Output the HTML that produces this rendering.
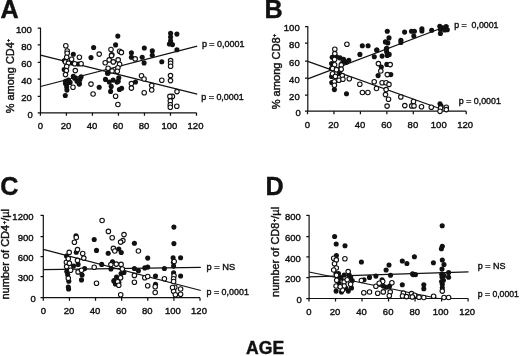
<!DOCTYPE html><html><head><meta charset="utf-8"><style>html,body{margin:0;padding:0;background:#fff;}svg{display:block;}text{font-family:"Liberation Sans",sans-serif;fill:#111;stroke:#111;stroke-width:0.4px;}svg{filter:grayscale(1) blur(0.3px);}</style></head><body>
<svg width="520" height="356" viewBox="0 0 520 356">
<rect width="520" height="356" fill="#fff"/>
<path d="M40.5 27.7V112.8H196.5" fill="none" stroke="#111" stroke-width="1.2"/>
<path d="M37.7 28.2H40.5M37.7 44.9H40.5M37.7 62.4H40.5M37.7 79.2H40.5M37.7 96.3H40.5M37.7 112.8H40.5M40.40 112.8V115.8M66.42 112.8V115.8M92.43 112.8V115.8M118.45 112.8V115.8M144.47 112.8V115.8M170.48 112.8V115.8M196.50 112.8V115.8" fill="none" stroke="#111" stroke-width="1.25"/>
<text x="31.90" y="32.90" font-size="9.5" text-anchor="end" font-weight="normal" >100</text>
<text x="31.90" y="49.60" font-size="9.5" text-anchor="end" font-weight="normal" >80</text>
<text x="31.90" y="67.10" font-size="9.5" text-anchor="end" font-weight="normal" >60</text>
<text x="31.90" y="83.90" font-size="9.5" text-anchor="end" font-weight="normal" >40</text>
<text x="31.90" y="101.00" font-size="9.5" text-anchor="end" font-weight="normal" >20</text>
<text x="32.90" y="117.50" font-size="9.5" text-anchor="end" font-weight="normal" >0</text>
<text x="40.40" y="129.0" font-size="9.5" text-anchor="middle" font-weight="normal" >0</text>
<text x="66.02" y="129.0" font-size="9.5" text-anchor="middle" font-weight="normal" >20</text>
<text x="92.03" y="129.0" font-size="9.5" text-anchor="middle" font-weight="normal" >40</text>
<text x="118.05" y="129.0" font-size="9.5" text-anchor="middle" font-weight="normal" >60</text>
<text x="144.07" y="129.0" font-size="9.5" text-anchor="middle" font-weight="normal" >80</text>
<text x="169.48" y="129.0" font-size="9.5" text-anchor="middle" font-weight="normal" >100</text>
<text x="195.50" y="129.0" font-size="9.5" text-anchor="middle" font-weight="normal" >120</text>
<line x1="40.5" y1="86.5" x2="197.2" y2="46.2" stroke="#111" stroke-width="1.25"/>
<line x1="40.5" y1="55.1" x2="197.2" y2="94.2" stroke="#111" stroke-width="1.25"/>
<circle cx="71.9" cy="62.9" r="2.55" fill="#111"/>
<circle cx="78.1" cy="64.0" r="2.55" fill="#111"/>
<circle cx="64.4" cy="60.6" r="2.55" fill="#111"/>
<circle cx="64.2" cy="69.5" r="2.55" fill="#111"/>
<circle cx="73.3" cy="54.3" r="2.55" fill="#111"/>
<circle cx="65.3" cy="95.5" r="2.55" fill="#111"/>
<circle cx="66.9" cy="90.1" r="2.55" fill="#111"/>
<circle cx="66.7" cy="86.9" r="2.55" fill="#111"/>
<circle cx="65.5" cy="83.5" r="2.55" fill="#111"/>
<circle cx="65.5" cy="81.3" r="2.55" fill="#111"/>
<circle cx="68.4" cy="80.1" r="2.55" fill="#111"/>
<circle cx="66.7" cy="83.6" r="2.55" fill="#111"/>
<circle cx="70.1" cy="82.4" r="2.55" fill="#111"/>
<circle cx="73.3" cy="76.4" r="2.55" fill="#111"/>
<circle cx="75.3" cy="77.8" r="2.55" fill="#111"/>
<circle cx="81.1" cy="76.7" r="2.55" fill="#111"/>
<circle cx="79.9" cy="79.5" r="2.55" fill="#111"/>
<circle cx="79.4" cy="83.6" r="2.55" fill="#111"/>
<circle cx="77" cy="81.3" r="2.55" fill="#111"/>
<circle cx="74.6" cy="78.3" r="2.55" fill="#111"/>
<circle cx="79.2" cy="84.1" r="2.55" fill="#111"/>
<circle cx="93.6" cy="47.5" r="2.55" fill="#111"/>
<circle cx="91.0" cy="57.6" r="2.55" fill="#111"/>
<circle cx="99.2" cy="87.3" r="2.55" fill="#111"/>
<circle cx="115.6" cy="44.9" r="2.55" fill="#111"/>
<circle cx="117.8" cy="36.1" r="2.55" fill="#111"/>
<circle cx="108.1" cy="72.9" r="2.55" fill="#111"/>
<circle cx="105.5" cy="79.4" r="2.55" fill="#111"/>
<circle cx="109.3" cy="82" r="2.55" fill="#111"/>
<circle cx="111.2" cy="86.4" r="2.55" fill="#111"/>
<circle cx="110.6" cy="91.4" r="2.55" fill="#111"/>
<circle cx="113.1" cy="80.1" r="2.55" fill="#111"/>
<circle cx="118.2" cy="81.3" r="2.55" fill="#111"/>
<circle cx="119.4" cy="89.5" r="2.55" fill="#111"/>
<circle cx="121.6" cy="88.3" r="2.55" fill="#111"/>
<circle cx="118.8" cy="77.7" r="2.55" fill="#111"/>
<circle cx="117" cy="82.1" r="2.55" fill="#111"/>
<circle cx="107.5" cy="73.3" r="2.55" fill="#111"/>
<circle cx="131.4" cy="52.8" r="2.55" fill="#111"/>
<circle cx="131.4" cy="57.2" r="2.55" fill="#111"/>
<circle cx="144.3" cy="48" r="2.55" fill="#111"/>
<circle cx="142.2" cy="57.2" r="2.55" fill="#111"/>
<circle cx="144.1" cy="62.9" r="2.55" fill="#111"/>
<circle cx="152.3" cy="50.9" r="2.55" fill="#111"/>
<circle cx="152.3" cy="55.3" r="2.55" fill="#111"/>
<circle cx="161.8" cy="61.7" r="2.55" fill="#111"/>
<circle cx="170.6" cy="33.2" r="2.55" fill="#111"/>
<circle cx="170.6" cy="37" r="2.55" fill="#111"/>
<circle cx="170.6" cy="40.8" r="2.55" fill="#111"/>
<circle cx="169.4" cy="44" r="2.55" fill="#111"/>
<circle cx="172.5" cy="44.6" r="2.55" fill="#111"/>
<circle cx="176.9" cy="34.1" r="2.55" fill="#111"/>
<circle cx="176.9" cy="49.7" r="2.55" fill="#111"/>
<circle cx="135.5" cy="82" r="2.55" fill="#111"/>
<circle cx="65.8" cy="45.8" r="2.25" fill="#fff" stroke="#111" stroke-width="1.1"/>
<circle cx="67.2" cy="51" r="2.25" fill="#fff" stroke="#111" stroke-width="1.1"/>
<circle cx="67.2" cy="53.3" r="2.25" fill="#fff" stroke="#111" stroke-width="1.1"/>
<circle cx="66.7" cy="57.3" r="2.25" fill="#fff" stroke="#111" stroke-width="1.1"/>
<circle cx="71.6" cy="59.3" r="2.25" fill="#fff" stroke="#111" stroke-width="1.1"/>
<circle cx="79.4" cy="57.3" r="2.25" fill="#fff" stroke="#111" stroke-width="1.1"/>
<circle cx="81.1" cy="63.7" r="2.25" fill="#fff" stroke="#111" stroke-width="1.1"/>
<circle cx="65.5" cy="61.9" r="2.25" fill="#fff" stroke="#111" stroke-width="1.1"/>
<circle cx="68.4" cy="63.1" r="2.25" fill="#fff" stroke="#111" stroke-width="1.1"/>
<circle cx="74.7" cy="63.7" r="2.25" fill="#fff" stroke="#111" stroke-width="1.1"/>
<circle cx="66.7" cy="66.5" r="2.25" fill="#fff" stroke="#111" stroke-width="1.1"/>
<circle cx="66.4" cy="70.6" r="2.25" fill="#fff" stroke="#111" stroke-width="1.1"/>
<circle cx="75.3" cy="70.6" r="2.25" fill="#fff" stroke="#111" stroke-width="1.1"/>
<circle cx="65.5" cy="74.6" r="2.25" fill="#fff" stroke="#111" stroke-width="1.1"/>
<circle cx="73" cy="87.2" r="2.25" fill="#fff" stroke="#111" stroke-width="1.1"/>
<circle cx="99.2" cy="54.1" r="2.25" fill="#fff" stroke="#111" stroke-width="1.1"/>
<circle cx="91" cy="84.1" r="2.25" fill="#fff" stroke="#111" stroke-width="1.1"/>
<circle cx="93.1" cy="94" r="2.25" fill="#fff" stroke="#111" stroke-width="1.1"/>
<circle cx="111" cy="49.5" r="2.25" fill="#fff" stroke="#111" stroke-width="1.1"/>
<circle cx="111.8" cy="54.7" r="2.25" fill="#fff" stroke="#111" stroke-width="1.1"/>
<circle cx="119.6" cy="51.3" r="2.25" fill="#fff" stroke="#111" stroke-width="1.1"/>
<circle cx="121.4" cy="52.4" r="2.25" fill="#fff" stroke="#111" stroke-width="1.1"/>
<circle cx="111.5" cy="55.6" r="2.25" fill="#fff" stroke="#111" stroke-width="1.1"/>
<circle cx="109.2" cy="59.9" r="2.25" fill="#fff" stroke="#111" stroke-width="1.1"/>
<circle cx="105.2" cy="62.8" r="2.25" fill="#fff" stroke="#111" stroke-width="1.1"/>
<circle cx="113.3" cy="61.9" r="2.25" fill="#fff" stroke="#111" stroke-width="1.1"/>
<circle cx="118.2" cy="59.9" r="2.25" fill="#fff" stroke="#111" stroke-width="1.1"/>
<circle cx="119.6" cy="64.2" r="2.25" fill="#fff" stroke="#111" stroke-width="1.1"/>
<circle cx="117.9" cy="67.7" r="2.25" fill="#fff" stroke="#111" stroke-width="1.1"/>
<circle cx="108.1" cy="68.3" r="2.25" fill="#fff" stroke="#111" stroke-width="1.1"/>
<circle cx="112.1" cy="70.9" r="2.25" fill="#fff" stroke="#111" stroke-width="1.1"/>
<circle cx="117.3" cy="71.2" r="2.25" fill="#fff" stroke="#111" stroke-width="1.1"/>
<circle cx="115.6" cy="96.2" r="2.25" fill="#fff" stroke="#111" stroke-width="1.1"/>
<circle cx="117.9" cy="104.5" r="2.25" fill="#fff" stroke="#111" stroke-width="1.1"/>
<circle cx="135.2" cy="58.9" r="2.25" fill="#fff" stroke="#111" stroke-width="1.1"/>
<circle cx="141.5" cy="75.8" r="2.25" fill="#fff" stroke="#111" stroke-width="1.1"/>
<circle cx="144.1" cy="79" r="2.25" fill="#fff" stroke="#111" stroke-width="1.1"/>
<circle cx="131.4" cy="83.6" r="2.25" fill="#fff" stroke="#111" stroke-width="1.1"/>
<circle cx="131.4" cy="88.1" r="2.25" fill="#fff" stroke="#111" stroke-width="1.1"/>
<circle cx="144.2" cy="92.8" r="2.25" fill="#fff" stroke="#111" stroke-width="1.1"/>
<circle cx="151.7" cy="85.5" r="2.25" fill="#fff" stroke="#111" stroke-width="1.1"/>
<circle cx="151.7" cy="90" r="2.25" fill="#fff" stroke="#111" stroke-width="1.1"/>
<circle cx="161.8" cy="80.2" r="2.25" fill="#fff" stroke="#111" stroke-width="1.1"/>
<circle cx="170.6" cy="60.6" r="2.25" fill="#fff" stroke="#111" stroke-width="1.1"/>
<circle cx="170.6" cy="63.2" r="2.25" fill="#fff" stroke="#111" stroke-width="1.1"/>
<circle cx="170.6" cy="66.2" r="2.25" fill="#fff" stroke="#111" stroke-width="1.1"/>
<circle cx="170.5" cy="75.6" r="2.25" fill="#fff" stroke="#111" stroke-width="1.1"/>
<circle cx="170.5" cy="80.6" r="2.25" fill="#fff" stroke="#111" stroke-width="1.1"/>
<circle cx="177" cy="91.6" r="2.25" fill="#fff" stroke="#111" stroke-width="1.1"/>
<circle cx="172.4" cy="96.4" r="2.25" fill="#fff" stroke="#111" stroke-width="1.1"/>
<circle cx="169.9" cy="96.4" r="2.25" fill="#fff" stroke="#111" stroke-width="1.1"/>
<circle cx="170.3" cy="100.9" r="2.25" fill="#fff" stroke="#111" stroke-width="1.1"/>
<circle cx="170.3" cy="104.7" r="2.25" fill="#fff" stroke="#111" stroke-width="1.1"/>
<circle cx="170.3" cy="107.2" r="2.25" fill="#fff" stroke="#111" stroke-width="1.1"/>
<circle cx="176.8" cy="106.2" r="2.25" fill="#fff" stroke="#111" stroke-width="1.1"/>
<path d="M307.8 26.1V111.2H466.2" fill="none" stroke="#111" stroke-width="1.2"/>
<path d="M305.0 26.6H307.8M305.0 43.0H307.8M305.0 61.2H307.8M305.0 78.0H307.8M305.0 95.1H307.8M305.0 111.2H307.8M307.50 111.2V114.2M333.95 111.2V114.2M360.40 111.2V114.2M386.85 111.2V114.2M413.30 111.2V114.2M439.75 111.2V114.2M466.20 111.2V114.2" fill="none" stroke="#111" stroke-width="1.25"/>
<text x="299.70" y="31.30" font-size="9.5" text-anchor="end" font-weight="normal" >100</text>
<text x="299.70" y="47.70" font-size="9.5" text-anchor="end" font-weight="normal" >80</text>
<text x="299.70" y="65.90" font-size="9.5" text-anchor="end" font-weight="normal" >60</text>
<text x="299.70" y="82.70" font-size="9.5" text-anchor="end" font-weight="normal" >40</text>
<text x="299.70" y="99.80" font-size="9.5" text-anchor="end" font-weight="normal" >20</text>
<text x="300.70" y="115.90" font-size="9.5" text-anchor="end" font-weight="normal" >0</text>
<text x="307.50" y="128.2" font-size="9.5" text-anchor="middle" font-weight="normal" >0</text>
<text x="333.55" y="128.2" font-size="9.5" text-anchor="middle" font-weight="normal" >20</text>
<text x="360.00" y="128.2" font-size="9.5" text-anchor="middle" font-weight="normal" >40</text>
<text x="386.45" y="128.2" font-size="9.5" text-anchor="middle" font-weight="normal" >60</text>
<text x="412.90" y="128.2" font-size="9.5" text-anchor="middle" font-weight="normal" >80</text>
<text x="438.75" y="128.2" font-size="9.5" text-anchor="middle" font-weight="normal" >100</text>
<text x="465.20" y="128.2" font-size="9.5" text-anchor="middle" font-weight="normal" >120</text>
<line x1="307.8" y1="78.9" x2="448.4" y2="25.5" stroke="#111" stroke-width="1.25"/>
<line x1="307.8" y1="61.4" x2="441" y2="109.0" stroke="#111" stroke-width="1.25"/>
<circle cx="331.6" cy="63.5" r="2.55" fill="#111"/>
<circle cx="331.4" cy="68.5" r="2.55" fill="#111"/>
<circle cx="331.6" cy="76.5" r="2.55" fill="#111"/>
<circle cx="331.8" cy="82.5" r="2.55" fill="#111"/>
<circle cx="332.2" cy="57.3" r="2.55" fill="#111"/>
<circle cx="336.5" cy="56.8" r="2.55" fill="#111"/>
<circle cx="340" cy="57.9" r="2.55" fill="#111"/>
<circle cx="343.5" cy="59.4" r="2.55" fill="#111"/>
<circle cx="348.8" cy="60.2" r="2.55" fill="#111"/>
<circle cx="346.2" cy="62.3" r="2.55" fill="#111"/>
<circle cx="342.3" cy="63.1" r="2.55" fill="#111"/>
<circle cx="339.6" cy="73.5" r="2.55" fill="#111"/>
<circle cx="334.4" cy="89.6" r="2.55" fill="#111"/>
<circle cx="346.5" cy="93.8" r="2.55" fill="#111"/>
<circle cx="359.9" cy="54.4" r="2.55" fill="#111"/>
<circle cx="362.3" cy="45.8" r="2.55" fill="#111"/>
<circle cx="368.1" cy="45.8" r="2.55" fill="#111"/>
<circle cx="376.7" cy="50.1" r="2.55" fill="#111"/>
<circle cx="374.3" cy="56.8" r="2.55" fill="#111"/>
<circle cx="382.1" cy="56.1" r="2.55" fill="#111"/>
<circle cx="387.3" cy="55.4" r="2.55" fill="#111"/>
<circle cx="389.2" cy="54.4" r="2.55" fill="#111"/>
<circle cx="386.3" cy="49.1" r="2.55" fill="#111"/>
<circle cx="385.4" cy="41.9" r="2.55" fill="#111"/>
<circle cx="387.8" cy="42.9" r="2.55" fill="#111"/>
<circle cx="387.3" cy="31.2" r="2.55" fill="#111"/>
<circle cx="389" cy="37.9" r="2.55" fill="#111"/>
<circle cx="386.7" cy="48.3" r="2.55" fill="#111"/>
<circle cx="386.6" cy="51.8" r="2.55" fill="#111"/>
<circle cx="376.9" cy="50" r="2.55" fill="#111"/>
<circle cx="378.1" cy="75.6" r="2.55" fill="#111"/>
<circle cx="381.3" cy="67.0" r="2.55" fill="#111"/>
<circle cx="386.8" cy="64.4" r="2.55" fill="#111"/>
<circle cx="390.8" cy="74.6" r="2.55" fill="#111"/>
<circle cx="400.9" cy="40.2" r="2.55" fill="#111"/>
<circle cx="400.9" cy="42.5" r="2.55" fill="#111"/>
<circle cx="404.6" cy="32.1" r="2.55" fill="#111"/>
<circle cx="411.5" cy="31.2" r="2.55" fill="#111"/>
<circle cx="414.4" cy="31.2" r="2.55" fill="#111"/>
<circle cx="413.8" cy="36.1" r="2.55" fill="#111"/>
<circle cx="421.9" cy="28.7" r="2.55" fill="#111"/>
<circle cx="421.9" cy="31" r="2.55" fill="#111"/>
<circle cx="431.7" cy="30.2" r="2.55" fill="#111"/>
<circle cx="439.8" cy="26.3" r="2.55" fill="#111"/>
<circle cx="440.4" cy="29.4" r="2.55" fill="#111"/>
<circle cx="440.4" cy="33.5" r="2.55" fill="#111"/>
<circle cx="442.7" cy="27.7" r="2.55" fill="#111"/>
<circle cx="446.1" cy="26.5" r="2.55" fill="#111"/>
<circle cx="447.3" cy="29.8" r="2.55" fill="#111"/>
<circle cx="444.5" cy="30" r="2.55" fill="#111"/>
<circle cx="440" cy="103.8" r="2.55" fill="#111"/>
<circle cx="441.1" cy="106.1" r="2.55" fill="#111"/>
<circle cx="346.9" cy="44.3" r="2.25" fill="#fff" stroke="#111" stroke-width="1.1"/>
<circle cx="334.8" cy="49.2" r="2.25" fill="#fff" stroke="#111" stroke-width="1.1"/>
<circle cx="334.8" cy="53.6" r="2.25" fill="#fff" stroke="#111" stroke-width="1.1"/>
<circle cx="334.6" cy="59.5" r="2.25" fill="#fff" stroke="#111" stroke-width="1.1"/>
<circle cx="334.6" cy="64.8" r="2.25" fill="#fff" stroke="#111" stroke-width="1.1"/>
<circle cx="341.3" cy="64.9" r="2.25" fill="#fff" stroke="#111" stroke-width="1.1"/>
<circle cx="341.2" cy="69.3" r="2.25" fill="#fff" stroke="#111" stroke-width="1.1"/>
<circle cx="332.6" cy="68.5" r="2.25" fill="#fff" stroke="#111" stroke-width="1.1"/>
<circle cx="336.5" cy="69.8" r="2.25" fill="#fff" stroke="#111" stroke-width="1.1"/>
<circle cx="332.5" cy="73.8" r="2.25" fill="#fff" stroke="#111" stroke-width="1.1"/>
<circle cx="335.4" cy="76.4" r="2.25" fill="#fff" stroke="#111" stroke-width="1.1"/>
<circle cx="338.9" cy="80.2" r="2.25" fill="#fff" stroke="#111" stroke-width="1.1"/>
<circle cx="342.3" cy="75.6" r="2.25" fill="#fff" stroke="#111" stroke-width="1.1"/>
<circle cx="342.9" cy="79.2" r="2.25" fill="#fff" stroke="#111" stroke-width="1.1"/>
<circle cx="349.3" cy="78.8" r="2.25" fill="#fff" stroke="#111" stroke-width="1.1"/>
<circle cx="334.3" cy="81.7" r="2.25" fill="#fff" stroke="#111" stroke-width="1.1"/>
<circle cx="334.4" cy="85.3" r="2.25" fill="#fff" stroke="#111" stroke-width="1.1"/>
<circle cx="359.8" cy="84.3" r="2.25" fill="#fff" stroke="#111" stroke-width="1.1"/>
<circle cx="374.2" cy="81.8" r="2.25" fill="#fff" stroke="#111" stroke-width="1.1"/>
<circle cx="376.5" cy="88.5" r="2.25" fill="#fff" stroke="#111" stroke-width="1.1"/>
<circle cx="362.4" cy="92.5" r="2.25" fill="#fff" stroke="#111" stroke-width="1.1"/>
<circle cx="367.9" cy="92.5" r="2.25" fill="#fff" stroke="#111" stroke-width="1.1"/>
<circle cx="378.4" cy="63.6" r="2.25" fill="#fff" stroke="#111" stroke-width="1.1"/>
<circle cx="380.8" cy="71.0" r="2.25" fill="#fff" stroke="#111" stroke-width="1.1"/>
<circle cx="390.2" cy="64.6" r="2.25" fill="#fff" stroke="#111" stroke-width="1.1"/>
<circle cx="387.3" cy="74.6" r="2.25" fill="#fff" stroke="#111" stroke-width="1.1"/>
<circle cx="382.1" cy="82.7" r="2.25" fill="#fff" stroke="#111" stroke-width="1.1"/>
<circle cx="386.1" cy="82.7" r="2.25" fill="#fff" stroke="#111" stroke-width="1.1"/>
<circle cx="389" cy="84.4" r="2.25" fill="#fff" stroke="#111" stroke-width="1.1"/>
<circle cx="386.1" cy="89.6" r="2.25" fill="#fff" stroke="#111" stroke-width="1.1"/>
<circle cx="385.5" cy="94.6" r="2.25" fill="#fff" stroke="#111" stroke-width="1.1"/>
<circle cx="388.5" cy="99.3" r="2.25" fill="#fff" stroke="#111" stroke-width="1.1"/>
<circle cx="387.1" cy="106.1" r="2.25" fill="#fff" stroke="#111" stroke-width="1.1"/>
<circle cx="400.8" cy="96.9" r="2.25" fill="#fff" stroke="#111" stroke-width="1.1"/>
<circle cx="404.8" cy="105.6" r="2.25" fill="#fff" stroke="#111" stroke-width="1.1"/>
<circle cx="413.5" cy="101.5" r="2.25" fill="#fff" stroke="#111" stroke-width="1.1"/>
<circle cx="411.7" cy="105.9" r="2.25" fill="#fff" stroke="#111" stroke-width="1.1"/>
<circle cx="414" cy="105.9" r="2.25" fill="#fff" stroke="#111" stroke-width="1.1"/>
<circle cx="421.5" cy="106.7" r="2.25" fill="#fff" stroke="#111" stroke-width="1.1"/>
<circle cx="431.3" cy="107.3" r="2.25" fill="#fff" stroke="#111" stroke-width="1.1"/>
<circle cx="440.6" cy="107.9" r="2.25" fill="#fff" stroke="#111" stroke-width="1.1"/>
<circle cx="446.3" cy="107.3" r="2.25" fill="#fff" stroke="#111" stroke-width="1.1"/>
<circle cx="446.3" cy="109.6" r="2.25" fill="#fff" stroke="#111" stroke-width="1.1"/>
<circle cx="440" cy="111.2" r="2.25" fill="#fff" stroke="#111" stroke-width="1.1"/>
<path d="M43.3 214.9V297.7H200.0" fill="none" stroke="#111" stroke-width="1.2"/>
<path d="M40.5 215.4H43.3M40.5 236.5H43.3M40.5 256.6H43.3M40.5 276.6H43.3M40.5 297.7H43.3M43.30 297.7V300.7M69.42 297.7V300.7M95.53 297.7V300.7M121.65 297.7V300.7M147.77 297.7V300.7M173.88 297.7V300.7M200.00 297.7V300.7" fill="none" stroke="#111" stroke-width="1.25"/>
<text x="33.50" y="220.10" font-size="9.5" text-anchor="end" font-weight="normal" >1200</text>
<text x="33.50" y="241.20" font-size="9.5" text-anchor="end" font-weight="normal" >900</text>
<text x="33.50" y="261.30" font-size="9.5" text-anchor="end" font-weight="normal" >600</text>
<text x="33.50" y="281.30" font-size="9.5" text-anchor="end" font-weight="normal" >300</text>
<text x="35.90" y="302.40" font-size="9.5" text-anchor="end" font-weight="normal" >0</text>
<text x="43.30" y="314.1" font-size="9.5" text-anchor="middle" font-weight="normal" >0</text>
<text x="69.02" y="314.1" font-size="9.5" text-anchor="middle" font-weight="normal" >20</text>
<text x="95.13" y="314.1" font-size="9.5" text-anchor="middle" font-weight="normal" >40</text>
<text x="121.25" y="314.1" font-size="9.5" text-anchor="middle" font-weight="normal" >60</text>
<text x="147.37" y="314.1" font-size="9.5" text-anchor="middle" font-weight="normal" >80</text>
<text x="172.88" y="314.1" font-size="9.5" text-anchor="middle" font-weight="normal" >100</text>
<text x="199.00" y="314.1" font-size="9.5" text-anchor="middle" font-weight="normal" >120</text>
<line x1="43.3" y1="249.4" x2="200.8" y2="290.5" stroke="#111" stroke-width="1.25"/>
<line x1="43.3" y1="269.7" x2="200.8" y2="267.3" stroke="#111" stroke-width="1.25"/>
<circle cx="76" cy="235.8" r="2.55" fill="#111"/>
<circle cx="94.2" cy="239.5" r="2.55" fill="#111"/>
<circle cx="96.5" cy="250.4" r="2.55" fill="#111"/>
<circle cx="108.2" cy="253.3" r="2.55" fill="#111"/>
<circle cx="76.3" cy="252.3" r="2.55" fill="#111"/>
<circle cx="101.7" cy="264.4" r="2.55" fill="#111"/>
<circle cx="112.5" cy="261.7" r="2.55" fill="#111"/>
<circle cx="110.9" cy="269" r="2.55" fill="#111"/>
<circle cx="73.5" cy="266.1" r="2.55" fill="#111"/>
<circle cx="78.1" cy="264.4" r="2.55" fill="#111"/>
<circle cx="67.7" cy="274.8" r="2.55" fill="#111"/>
<circle cx="68.8" cy="281.3" r="2.55" fill="#111"/>
<circle cx="68.3" cy="287.1" r="2.55" fill="#111"/>
<circle cx="68.6" cy="289.0" r="2.55" fill="#111"/>
<circle cx="82.1" cy="275" r="2.55" fill="#111"/>
<circle cx="81.5" cy="279.9" r="2.55" fill="#111"/>
<circle cx="113.8" cy="281.1" r="2.55" fill="#111"/>
<circle cx="66.8" cy="271.5" r="2.55" fill="#111"/>
<circle cx="84.6" cy="268.6" r="2.55" fill="#111"/>
<circle cx="66.5" cy="256" r="2.55" fill="#111"/>
<circle cx="134.4" cy="243.3" r="2.55" fill="#111"/>
<circle cx="118.8" cy="249" r="2.55" fill="#111"/>
<circle cx="121.3" cy="252.5" r="2.55" fill="#111"/>
<circle cx="147.7" cy="258.1" r="2.55" fill="#111"/>
<circle cx="134.4" cy="268.5" r="2.55" fill="#111"/>
<circle cx="138.4" cy="270.8" r="2.55" fill="#111"/>
<circle cx="144.8" cy="267.9" r="2.55" fill="#111"/>
<circle cx="147.7" cy="267.1" r="2.55" fill="#111"/>
<circle cx="164.4" cy="268.5" r="2.55" fill="#111"/>
<circle cx="155.5" cy="276" r="2.55" fill="#111"/>
<circle cx="121.1" cy="273.6" r="2.55" fill="#111"/>
<circle cx="124" cy="272.5" r="2.55" fill="#111"/>
<circle cx="116.5" cy="277.1" r="2.55" fill="#111"/>
<circle cx="114.2" cy="280.6" r="2.55" fill="#111"/>
<circle cx="115.4" cy="284" r="2.55" fill="#111"/>
<circle cx="118.8" cy="282.3" r="2.55" fill="#111"/>
<circle cx="155.5" cy="284.3" r="2.55" fill="#111"/>
<circle cx="173.9" cy="227.1" r="2.55" fill="#111"/>
<circle cx="173.9" cy="243.6" r="2.55" fill="#111"/>
<circle cx="173.1" cy="257.8" r="2.55" fill="#111"/>
<circle cx="180.6" cy="257.8" r="2.55" fill="#111"/>
<circle cx="173.4" cy="262.2" r="2.55" fill="#111"/>
<circle cx="173.6" cy="266.1" r="2.55" fill="#111"/>
<circle cx="180.6" cy="276" r="2.55" fill="#111"/>
<circle cx="173.6" cy="272.9" r="2.55" fill="#111"/>
<circle cx="102.1" cy="220.5" r="2.25" fill="#fff" stroke="#111" stroke-width="1.1"/>
<circle cx="108.4" cy="231.4" r="2.25" fill="#fff" stroke="#111" stroke-width="1.1"/>
<circle cx="112.2" cy="237.8" r="2.25" fill="#fff" stroke="#111" stroke-width="1.1"/>
<circle cx="76.3" cy="237.5" r="2.25" fill="#fff" stroke="#111" stroke-width="1.1"/>
<circle cx="74.4" cy="242.3" r="2.25" fill="#fff" stroke="#111" stroke-width="1.1"/>
<circle cx="77.5" cy="249.6" r="2.25" fill="#fff" stroke="#111" stroke-width="1.1"/>
<circle cx="69.2" cy="252.4" r="2.25" fill="#fff" stroke="#111" stroke-width="1.1"/>
<circle cx="82.7" cy="253.5" r="2.25" fill="#fff" stroke="#111" stroke-width="1.1"/>
<circle cx="113.4" cy="248.4" r="2.25" fill="#fff" stroke="#111" stroke-width="1.1"/>
<circle cx="114.8" cy="251" r="2.25" fill="#fff" stroke="#111" stroke-width="1.1"/>
<circle cx="66.4" cy="262.2" r="2.25" fill="#fff" stroke="#111" stroke-width="1.1"/>
<circle cx="66.6" cy="266.6" r="2.25" fill="#fff" stroke="#111" stroke-width="1.1"/>
<circle cx="68.3" cy="258.7" r="2.25" fill="#fff" stroke="#111" stroke-width="1.1"/>
<circle cx="69.4" cy="263.3" r="2.25" fill="#fff" stroke="#111" stroke-width="1.1"/>
<circle cx="77.5" cy="260.4" r="2.25" fill="#fff" stroke="#111" stroke-width="1.1"/>
<circle cx="83.8" cy="258.1" r="2.25" fill="#fff" stroke="#111" stroke-width="1.1"/>
<circle cx="70.6" cy="270.2" r="2.25" fill="#fff" stroke="#111" stroke-width="1.1"/>
<circle cx="78.1" cy="271.9" r="2.25" fill="#fff" stroke="#111" stroke-width="1.1"/>
<circle cx="81.5" cy="270.2" r="2.25" fill="#fff" stroke="#111" stroke-width="1.1"/>
<circle cx="68.3" cy="278.2" r="2.25" fill="#fff" stroke="#111" stroke-width="1.1"/>
<circle cx="94.2" cy="267.3" r="2.25" fill="#fff" stroke="#111" stroke-width="1.1"/>
<circle cx="96.5" cy="283.2" r="2.25" fill="#fff" stroke="#111" stroke-width="1.1"/>
<circle cx="110.9" cy="264.6" r="2.25" fill="#fff" stroke="#111" stroke-width="1.1"/>
<circle cx="124" cy="234.6" r="2.25" fill="#fff" stroke="#111" stroke-width="1.1"/>
<circle cx="122.9" cy="240.6" r="2.25" fill="#fff" stroke="#111" stroke-width="1.1"/>
<circle cx="120.7" cy="294.8" r="2.25" fill="#fff" stroke="#111" stroke-width="1.1"/>
<circle cx="120.6" cy="242.1" r="2.25" fill="#fff" stroke="#111" stroke-width="1.1"/>
<circle cx="138.4" cy="251" r="2.25" fill="#fff" stroke="#111" stroke-width="1.1"/>
<circle cx="116.3" cy="264.1" r="2.25" fill="#fff" stroke="#111" stroke-width="1.1"/>
<circle cx="121.1" cy="264.4" r="2.25" fill="#fff" stroke="#111" stroke-width="1.1"/>
<circle cx="122.3" cy="269" r="2.25" fill="#fff" stroke="#111" stroke-width="1.1"/>
<circle cx="120.6" cy="277.7" r="2.25" fill="#fff" stroke="#111" stroke-width="1.1"/>
<circle cx="117.7" cy="281.7" r="2.25" fill="#fff" stroke="#111" stroke-width="1.1"/>
<circle cx="118.8" cy="285.2" r="2.25" fill="#fff" stroke="#111" stroke-width="1.1"/>
<circle cx="134.4" cy="275.4" r="2.25" fill="#fff" stroke="#111" stroke-width="1.1"/>
<circle cx="134.4" cy="282.3" r="2.25" fill="#fff" stroke="#111" stroke-width="1.1"/>
<circle cx="144.8" cy="277.7" r="2.25" fill="#fff" stroke="#111" stroke-width="1.1"/>
<circle cx="147.7" cy="276.5" r="2.25" fill="#fff" stroke="#111" stroke-width="1.1"/>
<circle cx="147.7" cy="285.8" r="2.25" fill="#fff" stroke="#111" stroke-width="1.1"/>
<circle cx="155.2" cy="286.8" r="2.25" fill="#fff" stroke="#111" stroke-width="1.1"/>
<circle cx="155.2" cy="292.5" r="2.25" fill="#fff" stroke="#111" stroke-width="1.1"/>
<circle cx="164.4" cy="278.7" r="2.25" fill="#fff" stroke="#111" stroke-width="1.1"/>
<circle cx="174.2" cy="261.5" r="2.25" fill="#fff" stroke="#111" stroke-width="1.1"/>
<circle cx="174" cy="275.8" r="2.25" fill="#fff" stroke="#111" stroke-width="1.1"/>
<circle cx="173.6" cy="278.7" r="2.25" fill="#fff" stroke="#111" stroke-width="1.1"/>
<circle cx="173.6" cy="281.5" r="2.25" fill="#fff" stroke="#111" stroke-width="1.1"/>
<circle cx="174.8" cy="287.3" r="2.25" fill="#fff" stroke="#111" stroke-width="1.1"/>
<circle cx="180.6" cy="289" r="2.25" fill="#fff" stroke="#111" stroke-width="1.1"/>
<circle cx="173.6" cy="291.3" r="2.25" fill="#fff" stroke="#111" stroke-width="1.1"/>
<circle cx="175.4" cy="294.8" r="2.25" fill="#fff" stroke="#111" stroke-width="1.1"/>
<circle cx="180.6" cy="294.2" r="2.25" fill="#fff" stroke="#111" stroke-width="1.1"/>
<circle cx="172.5" cy="287.5" r="2.25" fill="#fff" stroke="#111" stroke-width="1.1"/>
<path d="M309.1 214.9V298.5H468.1" fill="none" stroke="#111" stroke-width="1.2"/>
<path d="M306.3 215.4H309.1M306.3 236.7H309.1M306.3 256.8H309.1M306.3 277.7H309.1M306.3 298.5H309.1M309.00 298.5V301.5M335.52 298.5V301.5M362.03 298.5V301.5M388.55 298.5V301.5M415.07 298.5V301.5M441.58 298.5V301.5M468.10 298.5V301.5" fill="none" stroke="#111" stroke-width="1.25"/>
<text x="300.80" y="220.10" font-size="9.5" text-anchor="end" font-weight="normal" >800</text>
<text x="300.80" y="241.40" font-size="9.5" text-anchor="end" font-weight="normal" >600</text>
<text x="300.80" y="261.50" font-size="9.5" text-anchor="end" font-weight="normal" >400</text>
<text x="300.80" y="282.40" font-size="9.5" text-anchor="end" font-weight="normal" >200</text>
<text x="301.90" y="303.20" font-size="9.5" text-anchor="end" font-weight="normal" >0</text>
<text x="309.00" y="314.9" font-size="9.5" text-anchor="middle" font-weight="normal" >0</text>
<text x="335.12" y="314.9" font-size="9.5" text-anchor="middle" font-weight="normal" >20</text>
<text x="361.63" y="314.9" font-size="9.5" text-anchor="middle" font-weight="normal" >40</text>
<text x="388.15" y="314.9" font-size="9.5" text-anchor="middle" font-weight="normal" >60</text>
<text x="414.67" y="314.9" font-size="9.5" text-anchor="middle" font-weight="normal" >80</text>
<text x="440.58" y="314.9" font-size="9.5" text-anchor="middle" font-weight="normal" >100</text>
<text x="467.10" y="314.9" font-size="9.5" text-anchor="middle" font-weight="normal" >120</text>
<line x1="309.1" y1="272.0" x2="438.4" y2="298.5" stroke="#111" stroke-width="1.25"/>
<line x1="309.1" y1="276.9" x2="468.5" y2="271.8" stroke="#111" stroke-width="1.25"/>
<circle cx="334.6" cy="236.5" r="2.55" fill="#111"/>
<circle cx="336.2" cy="244" r="2.55" fill="#111"/>
<circle cx="345" cy="245.7" r="2.55" fill="#111"/>
<circle cx="336.4" cy="255.6" r="2.55" fill="#111"/>
<circle cx="336" cy="273.5" r="2.55" fill="#111"/>
<circle cx="344.2" cy="275" r="2.55" fill="#111"/>
<circle cx="349.2" cy="275" r="2.55" fill="#111"/>
<circle cx="338.5" cy="273.5" r="2.55" fill="#111"/>
<circle cx="340.8" cy="277.9" r="2.55" fill="#111"/>
<circle cx="350.6" cy="277.3" r="2.55" fill="#111"/>
<circle cx="336.1" cy="291.1" r="2.55" fill="#111"/>
<circle cx="348.3" cy="291.1" r="2.55" fill="#111"/>
<circle cx="339.2" cy="283.5" r="2.55" fill="#111"/>
<circle cx="346" cy="288.2" r="2.55" fill="#111"/>
<circle cx="341.5" cy="292" r="2.55" fill="#111"/>
<circle cx="352.2" cy="280.5" r="2.55" fill="#111"/>
<circle cx="338.4" cy="279.5" r="2.55" fill="#111"/>
<circle cx="351.5" cy="288" r="2.55" fill="#111"/>
<circle cx="361.4" cy="262" r="2.55" fill="#111"/>
<circle cx="369.5" cy="277.4" r="2.55" fill="#111"/>
<circle cx="375.9" cy="276.1" r="2.55" fill="#111"/>
<circle cx="364" cy="279.7" r="2.55" fill="#111"/>
<circle cx="389" cy="265" r="2.55" fill="#111"/>
<circle cx="402.3" cy="261" r="2.55" fill="#111"/>
<circle cx="406.9" cy="263.5" r="2.55" fill="#111"/>
<circle cx="386.1" cy="270" r="2.55" fill="#111"/>
<circle cx="390.5" cy="275.2" r="2.55" fill="#111"/>
<circle cx="382.1" cy="279.8" r="2.55" fill="#111"/>
<circle cx="383.3" cy="286.1" r="2.55" fill="#111"/>
<circle cx="386.1" cy="287.3" r="2.55" fill="#111"/>
<circle cx="389.6" cy="286.1" r="2.55" fill="#111"/>
<circle cx="402.3" cy="284.8" r="2.55" fill="#111"/>
<circle cx="413.2" cy="274.6" r="2.55" fill="#111"/>
<circle cx="414.4" cy="256.7" r="2.55" fill="#111"/>
<circle cx="442.2" cy="225.7" r="2.55" fill="#111"/>
<circle cx="442.3" cy="246.3" r="2.55" fill="#111"/>
<circle cx="441.4" cy="248.8" r="2.55" fill="#111"/>
<circle cx="433.4" cy="262.8" r="2.55" fill="#111"/>
<circle cx="442.3" cy="260" r="2.55" fill="#111"/>
<circle cx="444" cy="264.5" r="2.55" fill="#111"/>
<circle cx="442" cy="269.1" r="2.55" fill="#111"/>
<circle cx="448.6" cy="272.6" r="2.55" fill="#111"/>
<circle cx="412.6" cy="273.9" r="2.55" fill="#111"/>
<circle cx="415.5" cy="274.6" r="2.55" fill="#111"/>
<circle cx="441.7" cy="274.2" r="2.55" fill="#111"/>
<circle cx="448.6" cy="277.3" r="2.55" fill="#111"/>
<circle cx="443.4" cy="280.2" r="2.55" fill="#111"/>
<circle cx="442.3" cy="284.2" r="2.55" fill="#111"/>
<circle cx="442.3" cy="287.7" r="2.55" fill="#111"/>
<circle cx="442" cy="277" r="2.55" fill="#111"/>
<circle cx="441.6" cy="281.5" r="2.55" fill="#111"/>
<circle cx="444" cy="275.6" r="2.55" fill="#111"/>
<circle cx="423.8" cy="284.8" r="2.55" fill="#111"/>
<circle cx="423.8" cy="288.8" r="2.55" fill="#111"/>
<circle cx="333.7" cy="258.2" r="2.25" fill="#fff" stroke="#111" stroke-width="1.1"/>
<circle cx="336.3" cy="259.9" r="2.25" fill="#fff" stroke="#111" stroke-width="1.1"/>
<circle cx="334.5" cy="263.7" r="2.25" fill="#fff" stroke="#111" stroke-width="1.1"/>
<circle cx="336.3" cy="268" r="2.25" fill="#fff" stroke="#111" stroke-width="1.1"/>
<circle cx="333.7" cy="270" r="2.25" fill="#fff" stroke="#111" stroke-width="1.1"/>
<circle cx="344.9" cy="258.8" r="2.25" fill="#fff" stroke="#111" stroke-width="1.1"/>
<circle cx="348.2" cy="271.6" r="2.25" fill="#fff" stroke="#111" stroke-width="1.1"/>
<circle cx="336.5" cy="275.2" r="2.25" fill="#fff" stroke="#111" stroke-width="1.1"/>
<circle cx="336.7" cy="280.2" r="2.25" fill="#fff" stroke="#111" stroke-width="1.1"/>
<circle cx="336.1" cy="286" r="2.25" fill="#fff" stroke="#111" stroke-width="1.1"/>
<circle cx="344.2" cy="281.9" r="2.25" fill="#fff" stroke="#111" stroke-width="1.1"/>
<circle cx="344.2" cy="286" r="2.25" fill="#fff" stroke="#111" stroke-width="1.1"/>
<circle cx="350.6" cy="284.2" r="2.25" fill="#fff" stroke="#111" stroke-width="1.1"/>
<circle cx="342.5" cy="290" r="2.25" fill="#fff" stroke="#111" stroke-width="1.1"/>
<circle cx="340.2" cy="286.8" r="2.25" fill="#fff" stroke="#111" stroke-width="1.1"/>
<circle cx="347.2" cy="279.8" r="2.25" fill="#fff" stroke="#111" stroke-width="1.1"/>
<circle cx="361.4" cy="280.5" r="2.25" fill="#fff" stroke="#111" stroke-width="1.1"/>
<circle cx="363.8" cy="292.7" r="2.25" fill="#fff" stroke="#111" stroke-width="1.1"/>
<circle cx="369.5" cy="292" r="2.25" fill="#fff" stroke="#111" stroke-width="1.1"/>
<circle cx="375.9" cy="286.3" r="2.25" fill="#fff" stroke="#111" stroke-width="1.1"/>
<circle cx="377.7" cy="293.2" r="2.25" fill="#fff" stroke="#111" stroke-width="1.1"/>
<circle cx="382.7" cy="281.5" r="2.25" fill="#fff" stroke="#111" stroke-width="1.1"/>
<circle cx="391.9" cy="282.7" r="2.25" fill="#fff" stroke="#111" stroke-width="1.1"/>
<circle cx="379.2" cy="283.3" r="2.25" fill="#fff" stroke="#111" stroke-width="1.1"/>
<circle cx="383.3" cy="291.9" r="2.25" fill="#fff" stroke="#111" stroke-width="1.1"/>
<circle cx="390.2" cy="291.9" r="2.25" fill="#fff" stroke="#111" stroke-width="1.1"/>
<circle cx="403.4" cy="293.1" r="2.25" fill="#fff" stroke="#111" stroke-width="1.1"/>
<circle cx="411.5" cy="293.6" r="2.25" fill="#fff" stroke="#111" stroke-width="1.1"/>
<circle cx="389.3" cy="295.8" r="2.25" fill="#fff" stroke="#111" stroke-width="1.1"/>
<circle cx="402.5" cy="296" r="2.25" fill="#fff" stroke="#111" stroke-width="1.1"/>
<circle cx="406.5" cy="296.6" r="2.25" fill="#fff" stroke="#111" stroke-width="1.1"/>
<circle cx="419" cy="297.2" r="2.25" fill="#fff" stroke="#111" stroke-width="1.1"/>
<circle cx="442.3" cy="291.1" r="2.25" fill="#fff" stroke="#111" stroke-width="1.1"/>
<circle cx="414.6" cy="295.2" r="2.25" fill="#fff" stroke="#111" stroke-width="1.1"/>
<circle cx="412.3" cy="296.9" r="2.25" fill="#fff" stroke="#111" stroke-width="1.1"/>
<circle cx="423.8" cy="297.5" r="2.25" fill="#fff" stroke="#111" stroke-width="1.1"/>
<circle cx="433.6" cy="296.3" r="2.25" fill="#fff" stroke="#111" stroke-width="1.1"/>
<circle cx="444" cy="297.5" r="2.25" fill="#fff" stroke="#111" stroke-width="1.1"/>
<circle cx="448.6" cy="297.5" r="2.25" fill="#fff" stroke="#111" stroke-width="1.1"/>
<text x="0.4" y="17.9" font-size="25.2" font-weight="bold">A</text>
<text x="264.4" y="17.9" font-size="25.2" font-weight="bold">B</text>
<text x="0.2" y="195.2" font-size="25.2" font-weight="bold">C</text>
<text x="265.4" y="195.2" font-size="25.2" font-weight="bold">D</text>
<text transform="translate(13.7,113.3) rotate(-90)" font-size="10.6" textLength="74.4" lengthAdjust="spacingAndGlyphs">% among CD4<tspan dy="-3.3" font-size="5.5">+</tspan></text>
<text transform="translate(279.7,109.3) rotate(-90)" font-size="10.6" textLength="75.3" lengthAdjust="spacingAndGlyphs">% among CD8<tspan dy="-3.3" font-size="5.5">+</tspan></text>
<text transform="translate(9.3,299.5) rotate(-90)" font-size="10.6" textLength="90.5" lengthAdjust="spacingAndGlyphs">number of CD4<tspan dy="-3.6" font-size="5.5" dx="0.6">+</tspan><tspan dy="3.6">/&#181;l</tspan></text>
<text transform="translate(279.2,296.9) rotate(-90)" font-size="10.6" textLength="90.0" lengthAdjust="spacingAndGlyphs">number of CD8<tspan dy="-3.6" font-size="5.5" dx="0.6">+</tspan><tspan dy="3.6">/&#181;l</tspan></text>
<text x="201.9" y="46.9" font-size="8.8" style="stroke-width:0.38px" textLength="42.6" lengthAdjust="spacingAndGlyphs">p = 0,0001</text>
<text x="201.2" y="99.9" font-size="8.8" style="stroke-width:0.38px" textLength="42.6" lengthAdjust="spacingAndGlyphs">p = 0,0001</text>
<text x="454.2" y="27.6" font-size="8.8" style="stroke-width:0.38px" textLength="44.3" lengthAdjust="spacingAndGlyphs">p =&#160; 0,0001</text>
<text x="458.8" y="103.5" font-size="8.8" style="stroke-width:0.38px" textLength="42.0" lengthAdjust="spacingAndGlyphs">p = 0,0001</text>
<text x="206.5" y="269.6" font-size="8.8" style="stroke-width:0.38px" textLength="28.6" lengthAdjust="spacingAndGlyphs">p = NS</text>
<text x="206.5" y="294.9" font-size="8.8" style="stroke-width:0.38px" textLength="42.4" lengthAdjust="spacingAndGlyphs">p = 0,0001</text>
<text x="477.7" y="269.2" font-size="8.8" style="stroke-width:0.38px" textLength="27.7" lengthAdjust="spacingAndGlyphs">p = NS</text>
<text x="477.7" y="296.5" font-size="8.8" style="stroke-width:0.38px" textLength="41.2" lengthAdjust="spacingAndGlyphs">p = 0,0001</text>
<text x="246" y="354.2" font-size="17.6" font-weight="bold">AGE</text>
</svg></body></html>
